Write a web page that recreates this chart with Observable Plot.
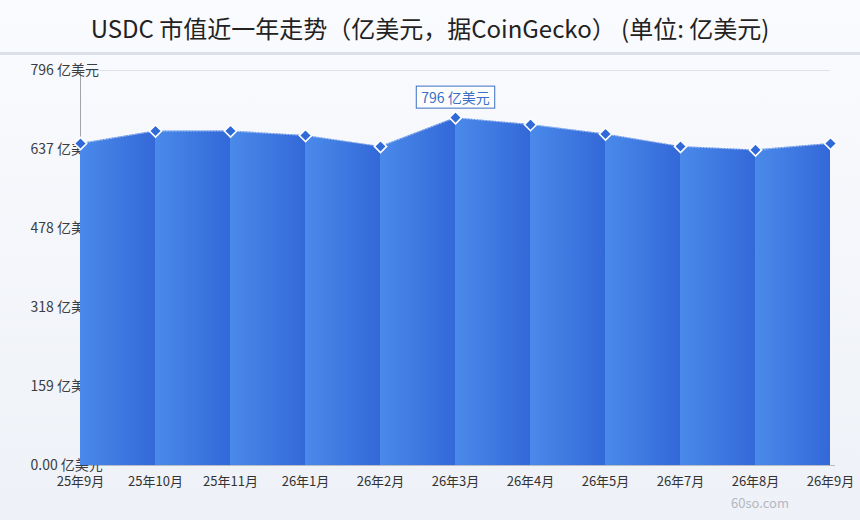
<!DOCTYPE html>
<html>
<head>
<meta charset="utf-8">
<script src="https://cdn.jsdelivr.net/npm/d3@7"></script>
<script src="https://cdn.jsdelivr.net/npm/@observablehq/plot@0.6"></script>
<style>
  html, body { margin: 0; padding: 0; }
  body {
    width: 860px; height: 520px; overflow: hidden; position: relative;
    background: linear-gradient(#fafbfe, #eef1f7);
    font-family: "Noto Sans CJK SC", "Noto Sans", sans-serif;
  }
  #title {
    height: 52px; line-height: 56px; text-align: center;
    font-size: 24px; color: #222;
    border-bottom: 3px solid #dde0e8;
    box-sizing: content-box;
  }
  #chart { position: absolute; left: 0; top: 55px; }
  #wm { position: absolute; left: 731px; top: 493px; font-size: 13px; color: #b5b8bf; }
</style>
</head>
<body>
<div id="title">USDC 市值近一年走势（亿美元，据CoinGecko） (单位: 亿美元)</div>
<div id="chart"></div>
<div id="wm">60so.com</div>
<script>
const months = ["25年9月","25年10月","25年11月","26年1月","26年2月","26年3月","26年4月","26年5月","26年7月","26年8月","26年9月"];
const values = [649, 674, 674, 665, 643, 701, 687, 668, 643, 636, 649];
const yTicks = [0, 159.2, 318.4, 477.6, 636.8, 796];
const yTickLabels = ["0.00 亿美元","159 亿美元","318 亿美元","478 亿美元","637 亿美元","796 亿美元"];
const peakLabel = "796 亿美元";

const points = months.map((m, i) => ({month: m, value: values[i]}));
const segments = [];
for (let i = 0; i < points.length - 1; i++) {
  segments.push({seg: i, month: points[i].month, value: points[i].value});
  segments.push({seg: i, month: points[i + 1].month, value: points[i + 1].value});
}
const peakIdx = values.indexOf(d3.max(values));
const yLabelRows = yTicks.map((t, i) => ({t, label: yTickLabels[i]}));

const chart = Plot.plot({
  width: 860,
  height: 465,
  marginLeft: 80,
  marginRight: 30,
  marginTop: 15,
  marginBottom: 55,
  style: {background: "transparent", fontFamily: "'Noto Sans CJK SC', 'Noto Sans', sans-serif"},
  x: {type: "point", domain: months, label: null, padding: 0},
  y: {domain: [0, 796], label: null, axis: null},
  marks: [
    Plot.ruleY([796], {stroke: "#dfe2e8", strokeWidth: 1}),
    Plot.ruleY([0], {stroke: "#b8bcc4", strokeWidth: 1, insetRight: -5}),
    Plot.ruleX([months[0]], {y1: 0, y2: 796, stroke: "#a0a4ab", strokeWidth: 1}),
    Plot.text(yLabelRows, {y: "t", text: "label", frameAnchor: "left", dx: -50, textAnchor: "start", fontSize: 14, fill: "#3a3d44"}),
    Plot.area(segments, {x1: "month", y1: 0, y2: "value", z: "seg", fill: "url(#segGrad)"}),
    Plot.line(points, {x: "month", y: "value", stroke: "#ffffff", strokeWidth: 1, strokeOpacity: 0.5, strokeDasharray: "1.5 1.5"}),
    Plot.dot(points, {x: "month", y: "value", symbol: "diamond2", r: 5.5, fill: "#3069d8", stroke: "#ffffff", strokeWidth: 1.6}),
    Plot.text([points[peakIdx]], {x: "month", y: "value", text: () => peakLabel, dy: -19, fontSize: 14, fill: "#3a6fc4"}),
    Plot.axisX({tickSize: 0, tickPadding: 11, fontSize: 13, color: "#333"})
  ]
});

const svg = d3.select(chart);
const defs = svg.insert("defs", ":first-child");
const g = defs.append("linearGradient").attr("id", "segGrad").attr("x1", "0").attr("x2", "1").attr("y1", "0").attr("y2", "0");
g.append("stop").attr("offset", "0%").attr("stop-color", "#4a8aea");
g.append("stop").attr("offset", "100%").attr("stop-color", "#3368d8");

document.getElementById("chart").appendChild(chart);

// box around the peak annotation (the last text with that content), sized from the rendered text
const matches = svg.selectAll("text").filter(function () { return this.textContent === peakLabel; }).nodes();
const peakNode = matches[matches.length - 1];
if (peakNode) {
  const bb = peakNode.getBBox();
  const r = d3.select(peakNode.parentNode).insert("rect", () => peakNode)
    .attr("x", bb.x - 5).attr("y", bb.y - 1)
    .attr("width", bb.width + 10).attr("height", bb.height + 2)
    .attr("fill", "rgba(255,255,255,0.85)").attr("stroke", "#3a6fc4").attr("stroke-width", 1);
  const tr = peakNode.getAttribute("transform");
  if (tr) r.attr("transform", tr);
}
</script>
</body>
</html>
